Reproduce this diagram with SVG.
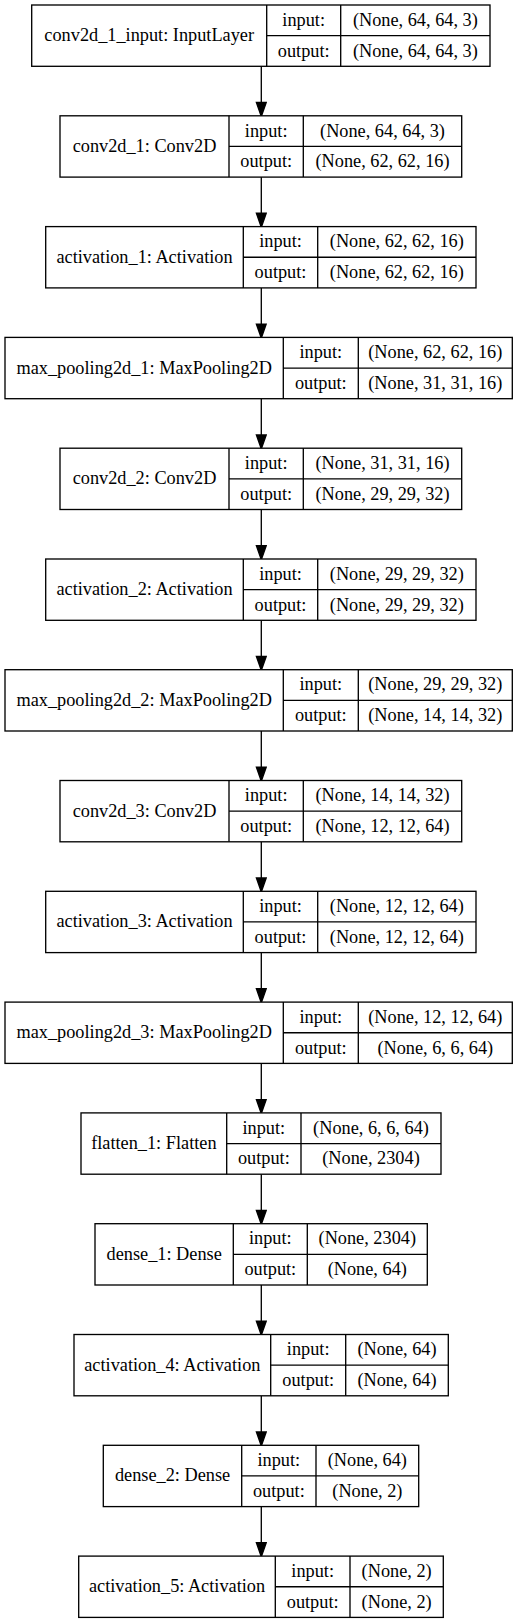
<svg xmlns="http://www.w3.org/2000/svg" width="523" height="1623" viewBox="0 0 523 1623">
<style>
text{font-family:"Liberation Serif","Times New Roman",serif;font-size:18.3px;fill:#000;text-anchor:middle}
.box{fill:#fff;stroke:#000;stroke-width:1.33}
.sep{stroke:#000;stroke-width:1.33;fill:none}
.edge{stroke:#000;stroke-width:1.33;fill:none}
</style>
<defs>
<marker id="arr" markerUnits="userSpaceOnUse" markerWidth="16" markerHeight="12" viewBox="-1 -1 15.3 11.33" refX="0" refY="4.67" orient="auto">
<path d="M0,0 L13.3,4.67 L0,9.33 Z" fill="#000" stroke="#000" stroke-width="1.33"/>
</marker>
</defs>
<rect width="523" height="1623" fill="#fff"/>
<g id="connectors">
<line class="edge" x1="261.3" y1="66.3" x2="261.3" y2="102.5" marker-end="url(#arr)"/>
<line class="edge" x1="261.3" y1="177.1" x2="261.3" y2="213.3" marker-end="url(#arr)"/>
<line class="edge" x1="261.3" y1="287.9" x2="261.3" y2="324.1" marker-end="url(#arr)"/>
<line class="edge" x1="261.3" y1="398.7" x2="261.3" y2="434.9" marker-end="url(#arr)"/>
<line class="edge" x1="261.3" y1="509.5" x2="261.3" y2="545.7" marker-end="url(#arr)"/>
<line class="edge" x1="261.3" y1="620.3" x2="261.3" y2="656.4" marker-end="url(#arr)"/>
<line class="edge" x1="261.3" y1="731.0" x2="261.3" y2="767.2" marker-end="url(#arr)"/>
<line class="edge" x1="261.3" y1="841.8" x2="261.3" y2="878.0" marker-end="url(#arr)"/>
<line class="edge" x1="261.3" y1="952.6" x2="261.3" y2="988.8" marker-end="url(#arr)"/>
<line class="edge" x1="261.3" y1="1063.4" x2="261.3" y2="1099.6" marker-end="url(#arr)"/>
<line class="edge" x1="261.3" y1="1174.2" x2="261.3" y2="1210.4" marker-end="url(#arr)"/>
<line class="edge" x1="261.3" y1="1285.0" x2="261.3" y2="1321.2" marker-end="url(#arr)"/>
<line class="edge" x1="261.3" y1="1395.8" x2="261.3" y2="1432.0" marker-end="url(#arr)"/>
<line class="edge" x1="261.3" y1="1506.6" x2="261.3" y2="1542.8" marker-end="url(#arr)"/>
</g>

<g id="conv2d_1_input" transform="translate(0,5)">
<rect class="box" x="31.7" y="0" width="458.3" height="61.3"/>
<path class="sep" d="M266.7,0V61.3M340.7,0V61.3M266.7,30.65H490"/>
<text x="149.2" y="36.2">conv2d_1_input: InputLayer</text>
<text x="303.7" y="20.8">input:</text><text x="303.7" y="51.5">output:</text>
<text x="415.35" y="20.8">(None, 64, 64, 3)</text><text x="415.35" y="51.5">(None, 64, 64, 3)</text>
</g>

<g id="conv2d_1" transform="translate(0,115.8)">
<rect class="box" x="60" y="0" width="401.7" height="61.3"/>
<path class="sep" d="M229,0V61.3M303.3,0V61.3M229,30.65H461.7"/>
<text x="144.5" y="36.2">conv2d_1: Conv2D</text>
<text x="266.2" y="20.8">input:</text><text x="266.2" y="51.5">output:</text>
<text x="382.5" y="20.8">(None, 64, 64, 3)</text><text x="382.5" y="51.5">(None, 62, 62, 16)</text>
</g>

<g id="activation_1" transform="translate(0,226.6)">
<rect class="box" x="45.7" y="0" width="430.3" height="61.3"/>
<path class="sep" d="M243.3,0V61.3M317.7,0V61.3M243.3,30.65H476"/>
<text x="144.5" y="36.2">activation_1: Activation</text>
<text x="280.5" y="20.8">input:</text><text x="280.5" y="51.5">output:</text>
<text x="396.85" y="20.8">(None, 62, 62, 16)</text><text x="396.85" y="51.5">(None, 62, 62, 16)</text>
</g>

<g id="max_pooling2d_1" transform="translate(0,337.4)">
<rect class="box" x="5" y="0" width="507.3" height="61.3"/>
<path class="sep" d="M283.3,0V61.3M358.3,0V61.3M283.3,30.65H512.3"/>
<text x="144.2" y="36.2">max_pooling2d_1: MaxPooling2D</text>
<text x="320.8" y="20.8">input:</text><text x="320.8" y="51.5">output:</text>
<text x="435.3" y="20.8">(None, 62, 62, 16)</text><text x="435.3" y="51.5">(None, 31, 31, 16)</text>
</g>

<g id="conv2d_2" transform="translate(0,448.2)">
<rect class="box" x="60" y="0" width="401.7" height="61.3"/>
<path class="sep" d="M229,0V61.3M303.3,0V61.3M229,30.65H461.7"/>
<text x="144.5" y="36.2">conv2d_2: Conv2D</text>
<text x="266.2" y="20.8">input:</text><text x="266.2" y="51.5">output:</text>
<text x="382.5" y="20.8">(None, 31, 31, 16)</text><text x="382.5" y="51.5">(None, 29, 29, 32)</text>
</g>

<g id="activation_2" transform="translate(0,559)">
<rect class="box" x="45.7" y="0" width="430.3" height="61.3"/>
<path class="sep" d="M243.3,0V61.3M317.7,0V61.3M243.3,30.65H476"/>
<text x="144.5" y="36.2">activation_2: Activation</text>
<text x="280.5" y="20.8">input:</text><text x="280.5" y="51.5">output:</text>
<text x="396.85" y="20.8">(None, 29, 29, 32)</text><text x="396.85" y="51.5">(None, 29, 29, 32)</text>
</g>

<g id="max_pooling2d_2" transform="translate(0,669.7)">
<rect class="box" x="5" y="0" width="507.3" height="61.3"/>
<path class="sep" d="M283.3,0V61.3M358.3,0V61.3M283.3,30.65H512.3"/>
<text x="144.2" y="36.2">max_pooling2d_2: MaxPooling2D</text>
<text x="320.8" y="20.8">input:</text><text x="320.8" y="51.5">output:</text>
<text x="435.3" y="20.8">(None, 29, 29, 32)</text><text x="435.3" y="51.5">(None, 14, 14, 32)</text>
</g>

<g id="conv2d_3" transform="translate(0,780.5)">
<rect class="box" x="60" y="0" width="401.7" height="61.3"/>
<path class="sep" d="M229,0V61.3M303.3,0V61.3M229,30.65H461.7"/>
<text x="144.5" y="36.2">conv2d_3: Conv2D</text>
<text x="266.2" y="20.8">input:</text><text x="266.2" y="51.5">output:</text>
<text x="382.5" y="20.8">(None, 14, 14, 32)</text><text x="382.5" y="51.5">(None, 12, 12, 64)</text>
</g>

<g id="activation_3" transform="translate(0,891.3)">
<rect class="box" x="45.7" y="0" width="430.3" height="61.3"/>
<path class="sep" d="M243.3,0V61.3M317.7,0V61.3M243.3,30.65H476"/>
<text x="144.5" y="36.2">activation_3: Activation</text>
<text x="280.5" y="20.8">input:</text><text x="280.5" y="51.5">output:</text>
<text x="396.85" y="20.8">(None, 12, 12, 64)</text><text x="396.85" y="51.5">(None, 12, 12, 64)</text>
</g>

<g id="max_pooling2d_3" transform="translate(0,1002.1)">
<rect class="box" x="5" y="0" width="507.3" height="61.3"/>
<path class="sep" d="M283.3,0V61.3M358.3,0V61.3M283.3,30.65H512.3"/>
<text x="144.2" y="36.2">max_pooling2d_3: MaxPooling2D</text>
<text x="320.8" y="20.8">input:</text><text x="320.8" y="51.5">output:</text>
<text x="435.3" y="20.8">(None, 12, 12, 64)</text><text x="435.3" y="51.5">(None, 6, 6, 64)</text>
</g>

<g id="flatten_1" transform="translate(0,1112.9)">
<rect class="box" x="81" y="0" width="360" height="61.3"/>
<path class="sep" d="M226.7,0V61.3M301,0V61.3M226.7,30.65H441"/>
<text x="153.85" y="36.2">flatten_1: Flatten</text>
<text x="263.85" y="20.8">input:</text><text x="263.85" y="51.5">output:</text>
<text x="371" y="20.8">(None, 6, 6, 64)</text><text x="371" y="51.5">(None, 2304)</text>
</g>

<g id="dense_1" transform="translate(0,1223.7)">
<rect class="box" x="95" y="0" width="332.3" height="61.3"/>
<path class="sep" d="M233.3,0V61.3M307.3,0V61.3M233.3,30.65H427.3"/>
<text x="164.15" y="36.2">dense_1: Dense</text>
<text x="270.3" y="20.8">input:</text><text x="270.3" y="51.5">output:</text>
<text x="367.3" y="20.8">(None, 2304)</text><text x="367.3" y="51.5">(None, 64)</text>
</g>

<g id="activation_4" transform="translate(0,1334.5)">
<rect class="box" x="74" y="0" width="374.3" height="61.3"/>
<path class="sep" d="M270.7,0V61.3M345.7,0V61.3M270.7,30.65H448.3"/>
<text x="172.35" y="36.2">activation_4: Activation</text>
<text x="308.2" y="20.8">input:</text><text x="308.2" y="51.5">output:</text>
<text x="397" y="20.8">(None, 64)</text><text x="397" y="51.5">(None, 64)</text>
</g>

<g id="dense_2" transform="translate(0,1445.3)">
<rect class="box" x="103.3" y="0" width="315.4" height="61.3"/>
<path class="sep" d="M241.7,0V61.3M316,0V61.3M241.7,30.65H418.7"/>
<text x="172.5" y="36.2">dense_2: Dense</text>
<text x="278.85" y="20.8">input:</text><text x="278.85" y="51.5">output:</text>
<text x="367.35" y="20.8">(None, 64)</text><text x="367.35" y="51.5">(None, 2)</text>
</g>

<g id="activation_5" transform="translate(0,1556.1)">
<rect class="box" x="78.7" y="0" width="364.6" height="61.3"/>
<path class="sep" d="M275.3,0V61.3M350,0V61.3M275.3,30.65H443.3"/>
<text x="177" y="36.2">activation_5: Activation</text>
<text x="312.65" y="20.8">input:</text><text x="312.65" y="51.5">output:</text>
<text x="396.65" y="20.8">(None, 2)</text><text x="396.65" y="51.5">(None, 2)</text>
</g>
</svg>
